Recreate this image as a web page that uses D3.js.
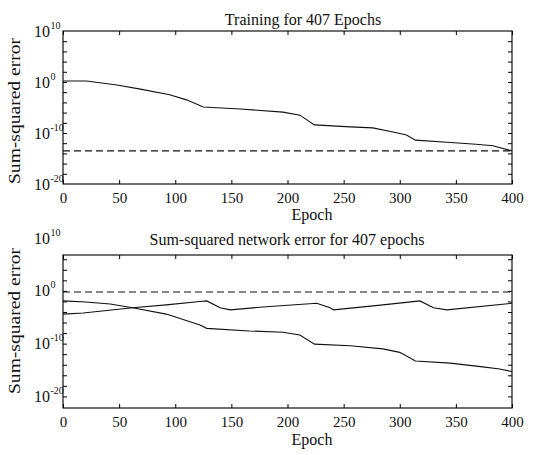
<!DOCTYPE html>
<html>
<head>
<meta charset="utf-8">
<script src="https://cdn.jsdelivr.net/npm/d3@7"></script>
<style>
  body { margin: 0; background: #fff; }
  text { font-family: "Liberation Serif", "DejaVu Serif", serif; fill: #111; }
</style>
</head>
<body>
<div id="chart"></div>
<script>
// --- data (log10 of sum-squared error) ---
const epochTicks = [0, 50, 100, 150, 200, 250, 300, 350, 400];

const trainEpochs = [0, 21, 48, 69, 95, 110, 125, 158, 196, 211, 224, 256, 276, 294, 306, 314, 342, 368, 383, 400];
const trainLogErr = [0.2, 0.2, -0.6, -1.4, -2.5, -3.5, -4.9, -5.3, -5.9, -6.5, -8.4, -8.8, -9.0, -9.8, -10.4, -11.4, -11.8, -12.2, -12.5, -13.5];
const trainGoalLog = -13.5;

const netEpochsA = [0, 20, 42, 62, 92, 122, 128, 166, 196, 211, 224, 256, 285, 300, 314, 345, 374, 389, 400];
const netLogErrA = [-1.9, -2.1, -2.5, -3.2, -4.4, -6.45, -7.1, -7.6, -7.85, -8.35, -10.1, -10.4, -11.0, -11.65, -13.3, -13.7, -14.4, -14.8, -15.3];

const netEpochsB = [0, 18, 62, 92, 122, 128, 140, 149, 181, 226, 238, 241, 285, 318, 330, 342, 400];
const netLogErrB = [-4.4, -4.2, -3.2, -2.65, -2.0, -1.9, -3.2, -3.6, -3.0, -2.35, -3.2, -3.6, -2.65, -1.9, -3.2, -3.6, -2.35];
const netGoalLog = -0.2;

const yMajorExp = [10, 0, -10, -20];

const W = 533, H = 455;
const svg = d3.select("#chart").append("svg").attr("width", W).attr("height", H);

const drawPanel = (cfg) => {
  const g = svg.append("g").attr("transform", `translate(${cfg.left},${cfg.top})`);
  const w = cfg.width, h = cfg.height;

  const x = d3.scaleLinear().domain([0, 400]).range([0, w]);
  const y = d3.scaleLog().domain([10 ** cfg.logMin, 10 ** cfg.logMax]).range([h, 0]);

  // frame
  g.append("rect").attr("width", w).attr("height", h)
    .attr("fill", "none").attr("stroke", "#111").attr("stroke-width", 1.2);

  // x ticks (inward, bottom + top) and labels
  g.append("g").attr("transform", `translate(0,${h})`)
    .call(d3.axisBottom(x).tickValues(epochTicks).tickSizeInner(-4).tickSizeOuter(0).tickPadding(8))
    .call(a => a.select(".domain").remove())
    .call(a => a.selectAll("text").attr("font-size", 15).style("fill", "#111"));
  g.append("g")
    .call(d3.axisTop(x).tickValues(epochTicks).tickSizeInner(-4).tickSizeOuter(0).tickFormat(""))
    .call(a => a.select(".domain").remove());

  // y minor ticks every 2 decades, both sides
  const minor = d3.range(Math.ceil(cfg.logMin / 2) * 2, cfg.logMax + 0.01, 2)
    .filter(e => e > cfg.logMin + 0.3 && e < cfg.logMax - 0.3).map(e => 10 ** e);
  g.append("g")
    .call(d3.axisLeft(y).tickValues(minor).tickSizeInner(-4).tickSizeOuter(0).tickFormat(""))
    .call(a => a.select(".domain").remove());
  g.append("g").attr("transform", `translate(${w},0)`)
    .call(d3.axisRight(y).tickValues(minor).tickSizeInner(-4).tickSizeOuter(0).tickFormat(""))
    .call(a => a.select(".domain").remove());

  // y labels 10^n
  const lab = g.append("g").selectAll("g").data(yMajorExp).join("g")
    .attr("transform", e => `translate(-13,${y(10 ** e)})`);
  lab.append("text").attr("text-anchor", "end").attr("dy", "0.35em")
    .attr("font-size", 16).text("10");
  lab.append("text").attr("text-anchor", "start").attr("dy", "-0.25em").attr("x", 0.5)
    .attr("font-size", 10).text(e => String(e));

  // lines
  const line = d3.line().x(d => x(d[0])).y(d => y(10 ** d[1]));
  cfg.series.forEach(s => {
    g.append("path").datum(d3.zip(s.epochs, s.values))
      .attr("fill", "none").attr("stroke", "#111").attr("stroke-width", 1.1)
      .attr("d", line);
  });
  g.append("line")
    .attr("x1", x(0)).attr("x2", x(400))
    .attr("y1", y(10 ** cfg.goal)).attr("y2", y(10 ** cfg.goal))
    .attr("stroke", "#111").attr("stroke-width", 1.1).attr("stroke-dasharray", "7,4");

  // title & axis labels
  g.append("text").attr("x", cfg.titleX - cfg.left).attr("y", cfg.titleY - cfg.top)
    .attr("text-anchor", "middle").attr("font-size", 16).text(cfg.title);
  g.append("text").attr("x", 312 - cfg.left).attr("y", cfg.xLabelY - cfg.top)
    .attr("text-anchor", "middle").attr("font-size", 16).text("Epoch");
  g.append("text")
    .attr("transform", `translate(${20 - cfg.left},${cfg.yLabelY - cfg.top}) rotate(-90)`)
    .attr("text-anchor", "middle").attr("font-size", 16)
    .attr("textLength", 146).attr("lengthAdjust", "spacingAndGlyphs")
    .text("Sum-squared error");
};

drawPanel({
  left: 63, top: 31, width: 449, height: 153,
  logMin: -20, logMax: 10,
  series: [{ epochs: trainEpochs, values: trainLogErr }],
  goal: trainGoalLog,
  title: "Training for 407 Epochs", titleX: 303, titleY: 25,
  xLabelY: 220, yLabelY: 111
});

drawPanel({
  left: 63, top: 255, width: 449, height: 153,
  logMin: -22.2, logMax: 6.8,
  series: [{ epochs: netEpochsA, values: netLogErrA }, { epochs: netEpochsB, values: netLogErrB }],
  goal: netGoalLog,
  title: "Sum-squared  network error for 407  epochs", titleX: 287, titleY: 245,
  xLabelY: 445, yLabelY: 321
});
</script>
</body>
</html>
